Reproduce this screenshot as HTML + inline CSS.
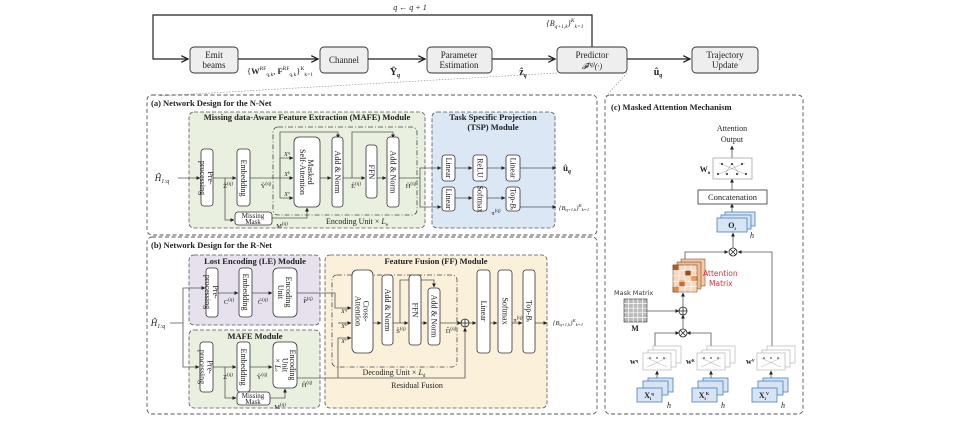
<!DOCTYPE html>
<html><head><meta charset="utf-8"><style>
body{margin:0;background:#fff}
svg{display:block;font-family:"Liberation Serif",serif}
.b{fill:#fff;stroke:#333;stroke-width:.8}
.t{font-size:8px;fill:#222}
.bt{font-size:8.5px;font-weight:bold;fill:#222}
.ln{stroke:#555;stroke-width:.8;fill:none}
</style></head><body>
<svg width="965" height="422" viewBox="0 0 965 422" xmlns="http://www.w3.org/2000/svg">
<defs><marker id="a" viewBox="0 0 6 6" refX="5.5" refY="3" markerWidth="5" markerHeight="5" orient="auto"><path d="M0,0L6,3L0,6z" fill="#222"/></marker>
<marker id="o" viewBox="0 0 10 10" refX="9" refY="5" markerWidth="7" markerHeight="7" orient="auto"><path d="M1,1L9,5L1,9" fill="none" stroke="#222" stroke-width="1.5"/></marker></defs>

<!-- top flow -->
<g stroke="#222" stroke-width="1.2" fill="none">
<path d="M592,47V15H153V59H188" marker-end="url(#o)"/>
<path d="M238,59H318" marker-end="url(#o)"/>
<path d="M368,59H425" marker-end="url(#o)"/>
<path d="M492,59H555" marker-end="url(#o)"/>
<path d="M627,59H690" marker-end="url(#o)"/>
</g>
<g fill="#eee" stroke="#333" stroke-width=".9">
<rect x="190" y="47" width="48" height="26" rx="4"/>
<rect x="320" y="47" width="48" height="26" rx="4"/>
<rect x="427" y="47" width="65" height="26" rx="4"/>
<rect x="557" y="47" width="70" height="26" rx="4"/>
<rect x="692" y="47" width="66" height="26" rx="4"/>
</g>
<g class="t" text-anchor="middle" font-size="9">
<text x="214" y="58" font-size="9">Emit</text><text x="214" y="68" font-size="9">beams</text>
<text x="344" y="63" font-size="9">Channel</text>
<text x="459" y="58" font-size="9">Parameter</text><text x="459" y="68" font-size="9">Estimation</text>
<text x="592" y="58" font-size="9">Predictor</text><text x="592" y="69" font-size="8" font-style="italic">𝓕<tspan font-size="6" dy="-3">(q)</tspan><tspan dy="3">(·)</tspan></text>
<text x="725" y="58" font-size="9">Trajectory</text><text x="725" y="68" font-size="9">Update</text>
<text x="410" y="10" font-style="italic">q ← q + 1</text>
<text x="565" y="26" font-style="italic">{B<tspan font-size="5.5" dy="2">q+1,k</tspan><tspan dy="-2">}</tspan><tspan font-size="5.5" dy="-4">K</tspan><tspan font-size="5.5" dy="6">k=1</tspan></text>
<text x="280" y="74" font-size="8.5">{<tspan font-weight="bold">W</tspan><tspan font-size="5.5" dy="-4">RF</tspan><tspan font-size="5.5" dy="6">q,k</tspan><tspan dy="-2">, </tspan><tspan font-weight="bold">F</tspan><tspan font-size="5.5" dy="-4">RF</tspan><tspan font-size="5.5" dy="6">q,k</tspan><tspan dy="-2">}</tspan><tspan font-size="5.5" dy="-4">K</tspan><tspan font-size="5.5" dy="6">k=1</tspan></text>
<text x="395" y="75" font-size="10" font-weight="bold">Ῡ<tspan font-size="6" font-style="italic" dy="2">q</tspan></text>
<text x="523" y="75" font-size="10" font-weight="bold">ẑ<tspan font-size="6" font-style="italic" dy="2">q</tspan></text>
<text x="658" y="75" font-size="10" font-weight="bold">û<tspan font-size="6" font-style="italic" dy="2">q</tspan></text>
</g>
<path d="M557,73L158,96M627,73L606,96" stroke="#888" stroke-width=".6" stroke-dasharray="1.5,1.5" fill="none"/>

<!-- panels -->
<g fill="none" stroke="#555" stroke-width=".9" stroke-dasharray="4,2.5">
<rect x="147" y="95" width="450" height="140" rx="5"/>
<rect x="147" y="237" width="450" height="177" rx="5"/>
<rect x="605" y="95" width="198" height="319" rx="5"/>
</g>
<text class="bt" x="151" y="106">(a) Network Design for the N-Net</text>
<text class="bt" x="151" y="248">(b) Network Design for the R-Net</text>
<text class="bt" x="611" y="110" font-size="9">(c) Masked Attention Mechanism</text>

<!-- (a) -->
<rect x="189" y="112" width="236" height="116" rx="5" fill="#e9f0df" stroke="#555" stroke-width=".8" stroke-dasharray="4,2"/>
<rect x="432" y="112" width="123" height="116" rx="5" fill="#dbe7f5" stroke="#555" stroke-width=".8" stroke-dasharray="4,2"/>
<text class="bt" x="307" y="120" text-anchor="middle" font-size="8">Missing data-Aware Feature Extraction (MAFE) Module</text>
<text class="bt" x="493" y="120" text-anchor="middle" font-size="8">Task Specific Projection</text>
<text class="bt" x="493" y="130" text-anchor="middle" font-size="8">(TSP) Module</text>
<rect x="273" y="127" width="144" height="88" rx="5" fill="none" stroke="#444" stroke-width=".8" stroke-dasharray="5,2,1,2"/>
<text class="t" x="357" y="224" text-anchor="middle">Encoding Unit × <tspan font-style="italic">L</tspan><tspan font-size="5" dy="2">e</tspan></text>
<g class="ln" marker-end="url(#a)">
<path d="M178,178H200"/><path d="M213,178H236"/><path d="M250,178H293"/>
<path d="M225,178V220H234"/><path d="M272,218H307V208"/>
<path d="M280,178V158H293"/><path d="M280,178V198H293"/>
<path d="M280,178V132H338V138"/>
<path d="M320,178H331"/><path d="M343,178H365"/><path d="M352,178V132H393V138"/><path d="M377,178H386"/>
<path d="M399,178H420V168H441"/><path d="M420,178V207H441"/>
<path d="M455,168H472"/><path d="M487,168H505"/><path d="M520,168H556"/>
<path d="M455,198H472"/><path d="M487,198H505"/><path d="M520,207H556"/>
</g>
<g class="b">
<rect x="201" y="149" width="12" height="57" rx="3"/>
<rect x="237" y="149" width="13" height="57" rx="3"/>
<rect x="294" y="137" width="26" height="70" rx="5"/>
<rect x="332" y="137" width="11" height="70" rx="3"/>
<rect x="366" y="145" width="11" height="53" rx="3"/>
<rect x="387" y="137" width="12" height="70" rx="3"/>
<rect x="235" y="212" width="37" height="13" rx="3"/>
<rect x="442" y="155" width="13" height="26" rx="3"/>
<rect x="473" y="155" width="14" height="26" rx="3"/>
<rect x="506" y="155" width="14" height="26" rx="3"/>
<rect x="442" y="187" width="13" height="24" rx="3"/>
<rect x="473" y="187" width="14" height="24" rx="3"/>
<rect x="506" y="187" width="14" height="24" rx="3"/>
</g>
<g class="t" text-anchor="middle" font-size="7.5">
<text transform="translate(207,178) rotate(90)"><tspan x="0" y="-1">Pre-</tspan><tspan x="0" y="7">processing</tspan></text>
<text transform="translate(243.5,178) rotate(90)" y="2.5">Embedding</text>
<text transform="translate(307,172) rotate(90)"><tspan x="0" y="-1">Masked</tspan><tspan x="0" y="7">Self-Attention</tspan></text>
<text transform="translate(337.5,172) rotate(90)" y="2.5">Add &amp; Norm</text>
<text transform="translate(371.5,172) rotate(90)" y="2.5">FFN</text>
<text transform="translate(393,172) rotate(90)" y="2.5">Add &amp; Norm</text>
<text transform="translate(448.5,168) rotate(90)" y="2.5">Linear</text>
<text transform="translate(480,168) rotate(90)" y="2.5">ReLU</text>
<text transform="translate(513,168) rotate(90)" y="2.5">Linear</text>
<text transform="translate(448.5,199) rotate(90)" y="2.5">Linear</text>
<text transform="translate(480,199) rotate(90)" y="2.5">Softmax</text>
<text transform="translate(513,199) rotate(90)" y="2.5">Top-<tspan font-style="italic">B</tspan><tspan font-size="5">s</tspan></text>
<text x="253" y="218" font-size="7">Missing</text><text x="253" y="224" font-size="7">Mask</text>
<text x="162" y="181" font-size="9" font-style="italic">Ĥ<tspan font-size="6" dy="2">1:q</tspan></text>
<text x="228" y="188" font-size="6.5">Ẑ<tspan dy="-3" font-size="5">(q)</tspan></text>
<text x="266" y="188" font-size="6.5">Ŷ<tspan dy="-3" font-size="5">(q)</tspan></text>
<text x="356" y="188" font-size="6.5">Ê<tspan dy="-3" font-size="5">(q)</tspan></text>
<text x="411" y="188" font-size="6.5">Ĥ<tspan dy="-3" font-size="5">(q)</tspan></text>
<text x="282" y="228" font-size="6.5">M<tspan dy="-3" font-size="5">(q)</tspan></text>
<text x="496" y="215" font-size="6.5">π<tspan dy="-3" font-size="5">(q)</tspan></text>
<text x="287" y="156" font-size="6" font-style="italic">X<tspan dy="-2" font-size="4">q</tspan></text>
<text x="287" y="176" font-size="6" font-style="italic">X<tspan dy="-2" font-size="4">k</tspan></text>
<text x="287" y="196" font-size="6" font-style="italic">X<tspan dy="-2" font-size="4">v</tspan></text>
<text x="567" y="171" font-size="9" font-weight="bold">û<tspan font-size="6" font-style="italic" dy="2">q</tspan></text>
<text x="574" y="210" font-size="6.5" font-style="italic">{B<tspan font-size="4.5" dy="1">q+1,k</tspan><tspan dy="-1">}</tspan><tspan font-size="4.5" dy="-3">K</tspan><tspan font-size="4.5" dy="4">k=1</tspan></text>
</g>

<!-- (b) -->
<rect x="189" y="255" width="131" height="70" rx="5" fill="#e7e1ee" stroke="#555" stroke-width=".8" stroke-dasharray="4,2"/>
<rect x="189" y="330" width="131" height="78" rx="5" fill="#e9f0df" stroke="#555" stroke-width=".8" stroke-dasharray="4,2"/>
<rect x="325" y="255" width="222" height="153" rx="5" fill="#fbf1da" stroke="#555" stroke-width=".8" stroke-dasharray="4,2"/>
<text class="bt" x="255" y="264" text-anchor="middle" font-size="8">Lost Encoding (LE) Module</text>
<text class="bt" x="255" y="339" text-anchor="middle" font-size="8">MAFE Module</text>
<text class="bt" x="436" y="264" text-anchor="middle" font-size="8">Feature Fusion (FF) Module</text>
<rect x="332" y="275" width="125" height="92" rx="5" fill="none" stroke="#444" stroke-width=".8" stroke-dasharray="5,2,1,2"/>
<text class="t" x="394" y="375" text-anchor="middle">Decoding Unit × <tspan font-style="italic">L</tspan><tspan font-size="5" dy="2">d</tspan></text>
<text class="t" x="417" y="388" text-anchor="middle">Residual Fusion</text>
<g class="ln" marker-end="url(#a)">
<path d="M170,323H183V288H205"/><path d="M183,323V367H199"/>
<path d="M218,293H238"/><path d="M252,293H272"/>
<path d="M297,293H335V308H351"/><path d="M338,323H351"/><path d="M338,378V338H351"/>
<path d="M373,323H381"/><path d="M393,323H408"/><path d="M400,323V280H434V287"/><path d="M421,323H427"/><path d="M440,323H461"/><path d="M469,323H476"/>
<path d="M490,323H497"/><path d="M512,323H522"/><path d="M535,323H547"/>
<path d="M297,378H465V328"/>
<path d="M213,367H236"/><path d="M250,367H272"/>
<path d="M225,367V398H236"/><path d="M270,398H285V389"/>
</g>
<circle cx="465" cy="323" r="4" fill="#fff" stroke="#222" stroke-width=".8"/><path d="M461,323h8M465,319v8" stroke="#222" stroke-width=".8"/>
<g class="b">
<rect x="206" y="268" width="12" height="49" rx="3"/>
<rect x="239" y="268" width="13" height="49" rx="3"/>
<rect x="273" y="268" width="24" height="49" rx="5"/>
<rect x="352" y="270" width="21" height="83" rx="5"/>
<rect x="382" y="275" width="11" height="70" rx="3"/>
<rect x="409" y="275" width="12" height="70" rx="3"/>
<rect x="428" y="288" width="12" height="57" rx="3"/>
<rect x="477" y="270" width="13" height="83" rx="3"/>
<rect x="498" y="270" width="14" height="83" rx="3"/>
<rect x="523" y="270" width="12" height="83" rx="3"/>
<rect x="200" y="342" width="13" height="50" rx="3"/>
<rect x="237" y="342" width="13" height="50" rx="3"/>
<rect x="273" y="342" width="24" height="46" rx="5"/>
<rect x="237" y="392" width="33" height="13" rx="3"/>
</g>
<g class="t" text-anchor="middle" font-size="7.5">
<text transform="translate(212,292) rotate(90)"><tspan x="0" y="-1">Pre-</tspan><tspan x="0" y="7">processing</tspan></text>
<text transform="translate(245.5,292) rotate(90)" y="2.5">Embedding</text>
<text transform="translate(285,292) rotate(90)"><tspan x="0" y="-1">Encoding</tspan><tspan x="0" y="7">Unit</tspan></text>
<text transform="translate(362.5,311) rotate(90)"><tspan x="0" y="-1">Cross-</tspan><tspan x="0" y="7">Attention</tspan></text>
<text transform="translate(387.5,310) rotate(90)" y="2.5">Add &amp; Norm</text>
<text transform="translate(415,310) rotate(90)" y="2.5">FFN</text>
<text transform="translate(434,316) rotate(90)" y="2.5">Add &amp; Norm</text>
<text transform="translate(483.5,311) rotate(90)" y="2.5">Linear</text>
<text transform="translate(505,311) rotate(90)" y="2.5">Softmax</text>
<text transform="translate(529,311) rotate(90)" y="2.5">Top-<tspan font-style="italic">B</tspan><tspan font-size="5">s</tspan></text>
<text transform="translate(206.5,367) rotate(90)"><tspan x="0" y="-1">Pre-</tspan><tspan x="0" y="7">processing</tspan></text>
<text transform="translate(243.5,367) rotate(90)" y="2.5">Embedding</text>
<text transform="translate(285,365) rotate(90)"><tspan x="0" y="-5">Encoding</tspan><tspan x="0" y="2.5">Unit</tspan><tspan x="0" y="10">× <tspan font-style="italic">L</tspan><tspan font-size="5">e</tspan></tspan></text>
<text x="253" y="398" font-size="7">Missing</text><text x="253" y="404" font-size="7">Mask</text>
<text x="158" y="326" font-size="9" font-style="italic">Ĥ<tspan font-size="6" dy="2">1:q</tspan></text>
<text x="229" y="304" font-size="6.5">C<tspan dy="-3" font-size="5">(q)</tspan></text>
<text x="263" y="304" font-size="6.5">Ĉ<tspan dy="-3" font-size="5">(q)</tspan></text>
<text x="308" y="303" font-size="6.5">P̂<tspan dy="-3" font-size="5">(q)</tspan></text>
<text x="228" y="379" font-size="6.5">Z<tspan dy="-3" font-size="5">(q)</tspan></text>
<text x="262" y="379" font-size="6.5">Ŷ<tspan dy="-3" font-size="5">(q)</tspan></text>
<text x="307" y="387" font-size="6.5">Ĥ<tspan dy="-3" font-size="5">(q)</tspan></text>
<text x="280" y="409" font-size="6.5">M<tspan dy="-3" font-size="5">(q)</tspan></text>
<text x="401" y="333" font-size="6.5">Ŝ<tspan dy="-3" font-size="5">(q)</tspan></text>
<text x="451" y="333" font-size="6.5">D̂<tspan dy="-3" font-size="5">(q)</tspan></text>
<text x="518" y="322" font-size="6.5">π<tspan dy="-3" font-size="5">(q)</tspan></text>
<text x="344" y="313" font-size="6" font-style="italic">X<tspan dy="-2" font-size="4">q</tspan></text>
<text x="344" y="328" font-size="6" font-style="italic">X<tspan dy="-2" font-size="4">k</tspan></text>
<text x="344" y="343" font-size="6" font-style="italic">X<tspan dy="-2" font-size="4">v</tspan></text>
<text x="568" y="325" font-size="6.5" font-style="italic">{B<tspan font-size="4.5" dy="1">q+1,k</tspan><tspan dy="-1">}</tspan><tspan font-size="4.5" dy="-3">K</tspan><tspan font-size="4.5" dy="4">k=1</tspan></text>
</g>

<!-- (c) -->
<g class="ln" marker-end="url(#a)">
<path d="M732,158V146"/><path d="M732,190V179"/><path d="M732,218V204"/><path d="M733,248V233"/>
<path d="M685,265V252H728"/><path d="M772,353V252H738"/>
<path d="M683,307V293"/><path d="M647,311H679"/><path d="M683,329V315"/>
<path d="M655,353V333H679"/><path d="M711,353V333H687"/>
<path d="M657,388V371"/><path d="M711,388V371"/><path d="M771,388V371"/>
</g>
<rect x="713" y="158" width="39" height="21" fill="#fff" stroke="#999" stroke-width=".7"/>
<g stroke="#888" stroke-width=".4"><path d="M719,163L745,174M745,163L719,174M732,163L725,174M732,163L739,174"/></g>
<g fill="#222"><circle cx="722" cy="164" r="1"/><circle cx="732" cy="164" r="1"/><circle cx="742" cy="164" r="1"/><circle cx="718" cy="174" r="1"/><circle cx="727" cy="174" r="1"/><circle cx="737" cy="174" r="1"/><circle cx="746" cy="174" r="1"/></g>
<rect x="698" y="190" width="69" height="14" fill="#fff" stroke="#333" stroke-width=".8"/>
<g class="t" text-anchor="middle" font-size="7.5">
<text x="732" y="131">Attention</text><text x="732" y="142">Output</text>
<text x="732.5" y="200" font-size="8.5">Concatenation</text>
<text x="705" y="172" font-size="8" font-weight="bold">W<tspan font-size="5" dy="2">o</tspan></text>
</g>
<g stroke="#4a7fbf" stroke-width=".8" fill="#d6e4f4">
<rect x="725" y="212" width="30" height="14"/><rect x="721" y="215" width="30" height="14"/><rect x="717" y="218" width="30" height="14"/>
<rect x="648" y="378" width="25" height="14"/><rect x="643" y="381" width="25" height="14"/><rect x="637" y="388" width="25" height="14"/>
<rect x="703" y="378" width="25" height="14"/><rect x="698" y="381" width="25" height="14"/><rect x="692" y="388" width="25" height="14"/>
<rect x="763" y="378" width="25" height="14"/><rect x="758" y="381" width="25" height="14"/><rect x="752" y="388" width="25" height="14"/>
</g>
<g class="t" font-size="7" font-weight="bold" text-anchor="middle">
<text x="732" y="228">O<tspan font-size="4.5" dy="2">i</tspan></text>
<text x="649" y="398">X<tspan font-size="4.5" dy="2">i</tspan><tspan font-size="4.5" dy="-5">q</tspan></text>
<text x="704" y="398">X<tspan font-size="4.5" dy="2">i</tspan><tspan font-size="4.5" dy="-5">K</tspan></text>
<text x="764" y="398">X<tspan font-size="4.5" dy="2">i</tspan><tspan font-size="4.5" dy="-5">V</tspan></text>
</g>
<g class="t" font-size="6" font-style="italic"><text x="750" y="238">h</text><text x="667" y="408">h</text><text x="721" y="408">h</text><text x="781" y="408">h</text></g>
<g fill="#fff" stroke="#aaa" stroke-width=".6">
<rect x="653" y="346" width="28" height="17"/><rect x="648" y="350" width="28" height="17"/><rect x="643" y="353" width="28" height="17"/>
<rect x="707" y="346" width="28" height="17"/><rect x="702" y="350" width="28" height="17"/><rect x="697" y="353" width="28" height="17"/>
<rect x="767" y="346" width="28" height="17"/><rect x="762" y="350" width="28" height="17"/><rect x="757" y="353" width="28" height="17"/>
</g>
<g stroke="#999" stroke-width=".4"><path d="M647,358L667,367M667,358L647,367M701,358L721,367M721,358L701,367M761,358L781,367M781,358L761,367"/></g>
<g fill="#222"><circle cx="650" cy="358" r=".8"/><circle cx="657" cy="358" r=".8"/><circle cx="664" cy="358" r=".8"/><circle cx="704" cy="358" r=".8"/><circle cx="711" cy="358" r=".8"/><circle cx="718" cy="358" r=".8"/><circle cx="764" cy="358" r=".8"/><circle cx="771" cy="358" r=".8"/><circle cx="778" cy="358" r=".8"/></g>
<g class="t" font-size="6" font-weight="bold"><text x="630" y="364">w<tspan font-size="4" dy="-2">q</tspan></text><text x="686" y="364">w<tspan font-size="4" dy="-2">K</tspan></text><text x="746" y="364">w<tspan font-size="4" dy="-2">V</tspan></text></g>
<g stroke="#6b3b1a" stroke-width=".5">
<rect x="681" y="259" width="24" height="27" fill="#f3c9a8"/><rect x="677" y="262" width="24" height="27" fill="#eebb95"/>
<rect x="673" y="265" width="24" height="27" fill="#f7d9c0"/>
<rect x="673" y="265" width="6" height="5.4" fill="#b85c22"/><rect x="685" y="270.4" width="6" height="5.4" fill="#a14a16"/><rect x="679" y="281" width="6" height="5.4" fill="#c96a2a"/><rect x="691" y="275.8" width="6" height="5.4" fill="#e59a60"/><rect x="673" y="286.4" width="6" height="5.6" fill="#e08a4a"/>
<path d="M679,265V292M685,265V292M691,265V292M673,270.4H697M673,275.8H697M673,281.2H697M673,286.6H697" fill="none" stroke="#fff" stroke-width=".6"/>
</g>
<text x="703" y="276" font-family="'DejaVu Sans',sans-serif" font-size="7.5" fill="#e0303a">Attention</text>
<text x="709" y="286" font-family="'DejaVu Sans',sans-serif" font-size="7.5" fill="#e0303a">Matrix</text>
<text x="614" y="295" font-family="'DejaVu Sans',sans-serif" font-size="6.5" fill="#333">Mask Matrix</text>
<rect x="624" y="299" width="23" height="23" fill="#bbb" stroke="#333" stroke-width=".6"/>
<path d="M628.6,299V322M633.2,299V322M637.8,299V322M642.4,299V322M624,303.6H647M624,308.2H647M624,312.8H647M624,317.4H647" stroke="#fff" stroke-width=".7"/>
<text class="t" x="635" y="331" text-anchor="middle" font-size="7" font-weight="bold">M</text>
<g fill="#fff" stroke="#222" stroke-width=".8">
<circle cx="733" cy="252" r="4"/><circle cx="683" cy="311" r="4"/><circle cx="683" cy="333" r="4"/>
</g>
<path d="M730,249l6,6M736,249l-6,6M680,330l6,6M686,330l-6,6M679,311h8M683,307v8" stroke="#222" stroke-width=".8"/>
</svg>
</body></html>
